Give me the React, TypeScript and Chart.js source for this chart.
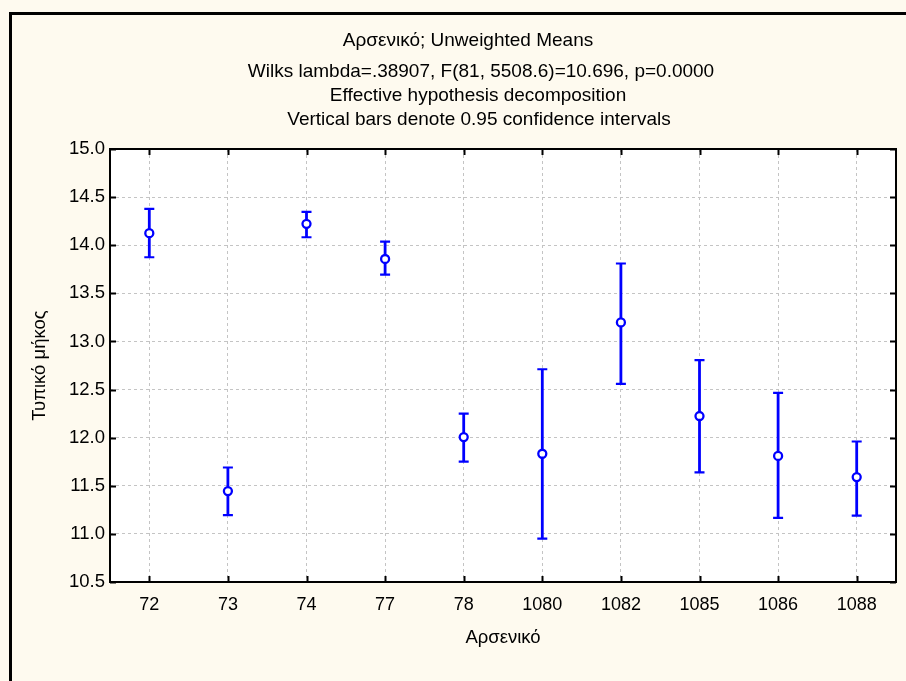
import { useEffect, useRef } from 'react';
import { Chart, registerables } from 'chart.js';

Chart.register(...registerables);

// Group labels (Αρσενικό levels)
const categories = ['72', '73', '74', '77', '78', '1080', '1082', '1085', '1086', '1088'];
// Unweighted means of Τυπικό μήκος
const means = [14.125, 11.445, 14.222, 13.857, 12.006, 11.833, 13.198, 12.225, 11.81, 11.59];
// 0.95 confidence interval bounds
const lowerCI = [13.875, 11.194, 14.083, 13.694, 11.75, 10.951, 12.56, 11.64, 11.167, 11.19];
const upperCI = [14.378, 11.69, 14.347, 14.038, 12.25, 12.711, 13.81, 12.805, 12.465, 11.96];

const titleLines = [
  'Αρσενικό; Unweighted Means',
  'Wilks lambda=.38907, F(81, 5508.6)=10.696, p=0.0000',
  'Effective hypothesis decomposition',
  'Vertical bars denote 0.95 confidence intervals',
];
const xAxisTitle = 'Αρσενικό';
const yAxisTitle = 'Τυπικό μήκος';
const yMin = 10.5;
const yMax = 15.0;
const yStep = 0.5;

const FONT = "'Liberation Sans', Arial, Helvetica, sans-serif";
const BLUE = '#0000ff';
const CREAM = '#fefaef';

const decorPlugin = {
  id: 'decor',
  beforeDraw(chart: any) {
    const { ctx, chartArea: a, width, height } = chart;
    ctx.save();
    ctx.fillStyle = CREAM;
    ctx.fillRect(0, 0, width, height);
    // outer frame
    ctx.strokeStyle = '#000';
    ctx.lineWidth = 3;
    ctx.strokeRect(10.5, 13.5, width + 20, height + 20);
    // plot background
    ctx.fillStyle = '#ffffff';
    ctx.fillRect(a.left, a.top, a.right - a.left, a.bottom - a.top);
    ctx.restore();
  },
  beforeDatasetsDraw(chart: any) {
    const { ctx, scales } = chart;
    const xs = scales.x;
    const ys = scales.y;
    ctx.save();
    ctx.strokeStyle = BLUE;
    ctx.lineCap = 'butt';
    for (let i = 0; i < categories.length; i++) {
      const x = xs.getPixelForValue(i);
      const yl = ys.getPixelForValue(lowerCI[i]);
      const yu = ys.getPixelForValue(upperCI[i]);
      // whisker
      ctx.lineWidth = 2.8;
      ctx.beginPath();
      ctx.moveTo(x, yl);
      ctx.lineTo(x, yu);
      ctx.stroke();
      // caps
      ctx.lineWidth = 2.2;
      ctx.beginPath();
      ctx.moveTo(x - 5, yl);
      ctx.lineTo(x + 5, yl);
      ctx.moveTo(x - 5, yu);
      ctx.lineTo(x + 5, yu);
      ctx.stroke();
    }
    ctx.restore();
  },
  afterDraw(chart: any) {
    const { ctx, chartArea: a, scales } = chart;
    const xs = scales.x;
    const ys = scales.y;
    ctx.save();
    ctx.strokeStyle = '#000';
    ctx.lineWidth = 2;
    ctx.strokeRect(a.left, a.top, a.right - a.left, a.bottom - a.top);
    const tl = 6;
    ctx.beginPath();
    for (let i = 0; i < categories.length; i++) {
      const x = Math.round(xs.getPixelForValue(i)) + 0.5;
      ctx.moveTo(x, a.bottom);
      ctx.lineTo(x, a.bottom - tl);
      ctx.moveTo(x, a.top);
      ctx.lineTo(x, a.top + tl);
    }
    for (let v = yMin; v <= yMax + 1e-9; v += yStep) {
      const y = Math.round(ys.getPixelForValue(v)) + 0.5;
      ctx.moveTo(a.left, y);
      ctx.lineTo(a.left + tl, y);
      ctx.moveTo(a.right, y);
      ctx.lineTo(a.right - tl, y);
    }
    ctx.stroke();

    ctx.fillStyle = '#000';
    ctx.textAlign = 'center';
    ctx.textBaseline = 'middle';
    ctx.font = `19px ${FONT}`;
    const titleX = [468, 481, 478, 479];
    const titleY = [41, 72, 96, 120];
    titleLines.forEach((t, i) => ctx.fillText(t, titleX[i], titleY[i]));

    ctx.font = `18.5px ${FONT}`;
    ctx.fillText(xAxisTitle, (a.left + a.right) / 2, 638);
    ctx.translate(40, (a.top + a.bottom) / 2);
    ctx.rotate(-Math.PI / 2);
    ctx.fillText(yAxisTitle, 0, 0);
    ctx.restore();
  },
};

export default function App() {
  const ref = useRef<HTMLCanvasElement | null>(null);

  useEffect(() => {
    if (!ref.current) return;
    const chart = new Chart(ref.current, {
      type: 'line',
      data: {
        labels: categories,
        datasets: [
          {
            data: means,
            showLine: false,
            pointStyle: 'circle',
            pointRadius: 4,
            pointBorderWidth: 2.3,
            pointBackgroundColor: '#ffffff',
            pointBorderColor: BLUE,
            borderColor: BLUE,
          },
        ],
      },
      options: {
        responsive: false,
        animation: false,
        events: [],
        layout: { padding: { left: 0, top: 149, right: 10, bottom: 0 } },
        plugins: {
          legend: { display: false },
          title: { display: false },
          tooltip: { enabled: false },
        },
        scales: {
          x: {
            type: 'category',
            offset: true,
            grid: {
              offset: false,
              drawTicks: false,
              color: '#c4c4c4',
              lineWidth: 1,
            },
            border: { display: false, dash: [3, 3] },
            ticks: {
              color: '#000',
              padding: 12,
              font: { family: FONT, size: 18 },
              maxRotation: 0,
              autoSkip: false,
            },
            afterFit: (s: any) => {
              s.height = 99;
            },
          },
          y: {
            min: yMin,
            max: yMax,
            grid: {
              drawTicks: false,
              color: '#c4c4c4',
              lineWidth: 1,
            },
            border: { display: false, dash: [3, 3] },
            ticks: {
              stepSize: yStep,
              color: '#000',
              padding: 5,
              font: { family: FONT, size: 18.5 },
              callback: (v: any) => Number(v).toFixed(1),
            },
            afterFit: (s: any) => {
              s.width = 110;
            },
          },
        },
      },
      plugins: [decorPlugin],
    });
    return () => chart.destroy();
  }, []);

  return (
    <div style={{ position: 'absolute', left: 0, top: 0, width: 906, height: 681 }}>
      <canvas ref={ref} width={906} height={681} style={{ width: 906, height: 681, display: 'block' }} />
    </div>
  );
}
